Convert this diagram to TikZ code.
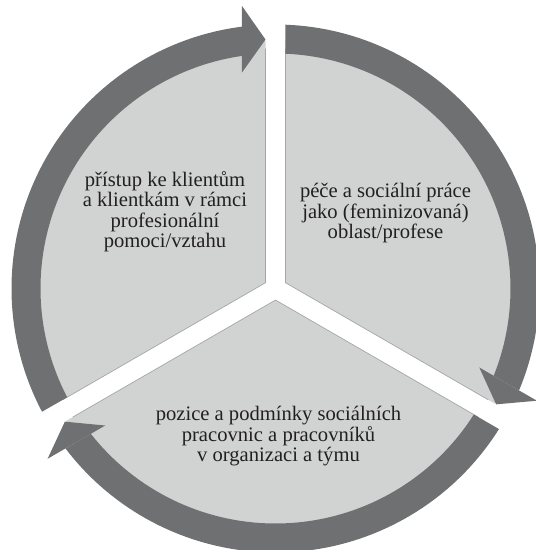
\documentclass[tikz,border=0pt]{standalone}
\usepackage{fontspec}
\setmainfont{Liberation Serif}
\definecolor{ringc}{RGB}{110,112,114}
\definecolor{sectc}{RGB}{209,211,211}
\definecolor{edgec}{RGB}{165,167,167}
\definecolor{txtc}{RGB}{35,31,32}
\begin{document}
\begin{tikzpicture}[x=1pt,y=1pt,
  lbl/.style={font=\fontsize{20.6}{20.5}\selectfont, align=center, text=txtc, inner sep=0pt}]
\useasboundingbox (-275.5,-261.5) rectangle (260.5,288.5);
\clip (-275.5,-261.5) rectangle (260.5,288.5);
% sectors
\foreach \a in {90,-30,210}{
  \pgfmathsetmacro{\b}{\a-120}
  \fill[sectc] ({\a-60}:11.55) -- ({\a-asin(10/248)}:248)
     arc[start angle={\a-asin(10/248)}, end angle={\b+asin(10/248)}, radius=248] -- cycle;
  \draw[edgec, line width=0.7pt] ({\a-asin(10/240)}:240) -- ({\a-60}:11.55) -- ({\b+asin(10/240)}:240);
}
% ring pieces with arrowheads
\foreach \a in {90,-30,210}{
  \pgfmathsetmacro{\b}{\a-120}
  \fill[ringc] ({\a-asin(10/264)}:264)
     arc[start angle={\a-asin(10/264)}, end angle={\b+asin(33.5/264)}, radius=264]
     -- ({\b+asin(33.5/235)}:235)
     arc[start angle={\b+asin(33.5/235)}, end angle={\a-asin(10/235)}, radius=235] -- cycle;
  \begin{scope}[rotate=\b-90]
    \fill[ringc] (-33.5,216) -- (-33.5,282.5) -- (-10,249) -- cycle;
  \end{scope}
}
\node[lbl] (left) at (-110.5,77) {přístup ke klientům\\a klientkám v rámci\\profesionální\\pomoci/vztahu};
\node[lbl] (right) at (110,75) {péče a sociální práce\\jako (feminizovaná)\\oblast/profese};
\node[lbl] (bottom) at (3,-148) {pozice a podmínky sociálních\\pracovnic a pracovníků\\v organizaci a týmu};
\end{tikzpicture}
\end{document}
